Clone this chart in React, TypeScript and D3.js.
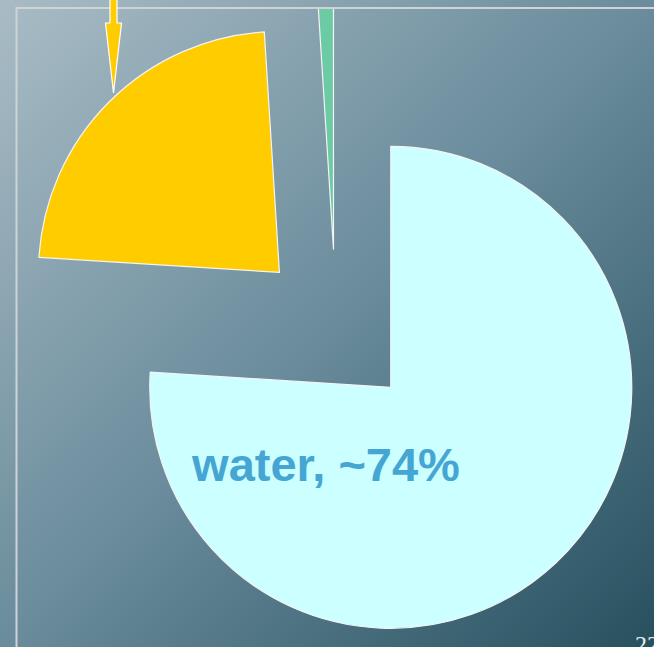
import React from "react";
import * as d3 from "d3";

const categories = ["water", "solids", "trace"];
const values = [76, 23, 1];
const colors = ["#CCFFFF", "#FFCC00", "#6CCBA4"];
const labelText = "water, ~74%";
const pageNumber = "22";

const W = 654;
const H = 647;

export default function App() {
  const cx = 336;
  const cy = 329;
  const r = 241;
  const explode = 80;

  const pie = d3.pie<number>().sort(null).startAngle(0).endAngle(2 * Math.PI);
  const arcs = pie(values);
  const arcGen = d3.arc<d3.PieArcDatum<number>>().innerRadius(0).outerRadius(r);

  // arrow shape (annotation)
  const ax = 113.5;
  const arrow = [
    [ax - 3.5, -2],
    [ax + 3.5, -2],
    [ax + 3.5, 23],
    [ax + 8, 23],
    [ax, 93],
    [ax - 8, 23],
    [ax - 3.5, 23],
  ];
  const arrowPath = d3.line()(arrow as [number, number][]) + "Z";

  return (
    <svg
      width={W}
      height={H}
      style={{ position: "fixed", left: 0, top: 0, display: "block" }}
    >
      <defs>
        <linearGradient id="bg" x1="0" y1="0" x2="1" y2="1">
          <stop offset="0%" stopColor="#a9bcc5" />
          <stop offset="50%" stopColor="#6a8c9c" />
          <stop offset="100%" stopColor="#27505f" />
        </linearGradient>
        <clipPath id="frameClip">
          <rect x={17} y={9} width={W} height={H} />
        </clipPath>
      </defs>
      <rect x={0} y={0} width={W} height={H} fill="url(#bg)" />
      <rect
        x={16.5}
        y={8}
        width={W + 20}
        height={H + 20}
        fill="none"
        stroke="#cfd3d5"
        strokeWidth={2}
      />
      <g clipPath="url(#frameClip)">
        {arcs.map((a, i) => {
          const mid = (a.startAngle + a.endAngle) / 2;
          const dx = Math.sin(mid) * explode;
          const dy = -Math.cos(mid) * explode;
          return (
            <path
              key={categories[i]}
              d={arcGen(a) || ""}
              transform={`translate(${cx + dx},${cy + dy})`}
              fill={colors[i]}
              stroke="#f4f4f4"
              strokeWidth={1.2}
              strokeLinejoin="round"
            />
          );
        })}
      </g>
      <text
        x={326}
        y={481}
        textAnchor="middle"
        fontFamily="'Liberation Sans', Arial, sans-serif"
        fontWeight="bold"
        fontSize={47}
        fill="#45A6D3"
      >
        {labelText}
      </text>
      <path d={arrowPath} fill="#FFCC00" stroke="#ffffff" strokeWidth={1.2} />
      <text
        x={635}
        y={652}
        fontFamily="'Liberation Serif', 'Times New Roman', serif"
        fontSize={24}
        fill="#e6eef0"
      >
        {pageNumber}
      </text>
    </svg>
  );
}
